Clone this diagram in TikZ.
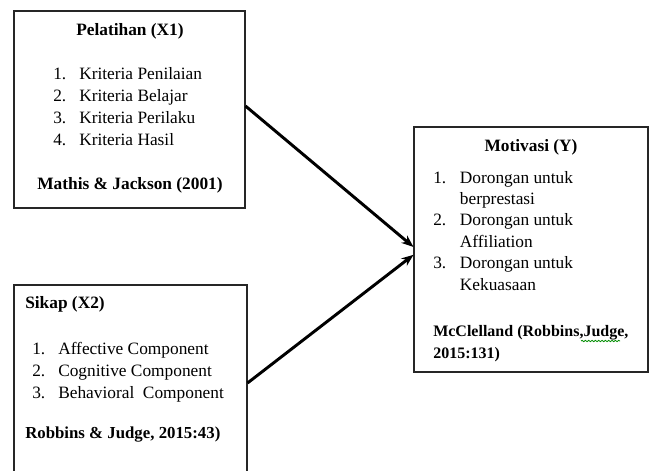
\documentclass[tikz,border=0pt]{standalone}
\usepackage{fontspec}
\setmainfont{Liberation Serif}
\usetikzlibrary{arrows.meta, fit, decorations.pathmorphing}

\begin{document}
\begin{tikzpicture}[
    x=0.75pt, y=-0.75pt,
    box/.style={rectangle, draw=black!85, line width=0.8pt, inner sep=0pt},
    head/.style={font=\fontsize{13}{16}\selectfont\bfseries, inner sep=0pt},
    items/.style={font=\fontsize{13}{16.5}\selectfont, inner sep=0pt},
    cite/.style={font=\fontsize{12}{16.5}\selectfont\bfseries, inner sep=0pt, align=left},
    arrow/.style={-{Stealth[length=9pt, width=7pt]}, line width=2.2pt, draw=black}
]
\clip (0,0) rectangle (653,471);
\node[box, fit={(14,11) (245,208)}] (pel) {};
\node[box, fit={(14,285) (247,481)}] (sik) {};
\node[box, fit={(414,127) (648,372)}] (mot) {};

\node[head, anchor=base] (peltitle) at (130,36) {Pelatihan (X1)};
\node[items, anchor=base west] (pellist) at (53,79) {\begin{tabular}[t]{@{}p{19.5pt}@{}l@{}}
    1. & Kriteria Penilaian\\
    2. & Kriteria Belajar\\
    3. & Kriteria Perilaku\\
    4. & Kriteria Hasil
\end{tabular}};
\node[head, anchor=base] (pelcite) at (130,189) {Mathis \& Jackson (2001)};

\node[head, anchor=base west] (siktitle) at (25,308) {Sikap (X2)};
\node[items, anchor=base west] (siklist) at (32,354) {\begin{tabular}[t]{@{}p{19.5pt}@{}l@{}}
    1. & Affective Component\\
    2. & Cognitive Component\\
    3. & Behavioral\ \ Component
\end{tabular}};
\node[cite, font=\fontsize{12.6}{16.5}\selectfont\bfseries, anchor=base west] (sikcite) at (25,438) {Robbins \& Judge, 2015:43)};

\node[head, anchor=base] (mottitle) at (531,151) {Motivasi (Y)};
\node[items, font=\fontsize{13}{16.1}\selectfont, anchor=base west] (motlist) at (433,183) {\begin{tabular}[t]{@{}p{20pt}@{}l@{}}
    1. & Dorongan untuk\\
       & berprestasi\\
    2. & Dorongan untuk\\
       & Affiliation\\
    3. & Dorongan untuk\\
       & Kekuasaan
\end{tabular}};
\node[cite, anchor=base west] (motcite) at (433,358) {McClelland (Robbins,Judge,\\2015:131)};
\draw[green!55!black, line width=0.6pt, decorate, decoration={snake, amplitude=0.5pt, segment length=2.5pt}] (581,341) -- (620,341);

\draw[arrow] ([yshift=2.6pt]pel.east) -- ([yshift=1.9pt]mot.west);
\draw[arrow] (sik.east) -- ([yshift=-4pt]mot.west);
\end{tikzpicture}
\end{document}
